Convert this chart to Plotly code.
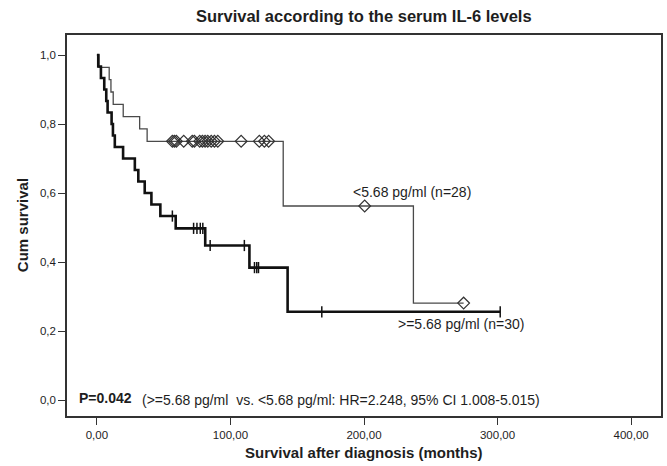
import plotly.graph_objects as go

# ---- data (months) ----
low_death = [1.5, 9.2, 10.5, 12.2, 19.7, 32.0, 37.6, 139.5, 237.0]
low_cens = [56.5, 58.0, 59.5, 65.0, 71.4, 73.0, 77.0, 79.0, 81.0, 83.0, 85.6,
            88.0, 90.5, 108.0, 121.6, 125.4, 128.6, 200.5, 274.6]
high_death = [1.0, 3.0, 5.5, 7.0, 8.0, 11.0, 12.0, 13.4, 19.6, 28.4, 31.0, 35.8,
              40.8, 47.5, 59.0, 81.1, 114.2, 142.8]
high_cens = [56.5, 72.4, 74.9, 77.4, 79.3, 84.8, 110.4, 118.0, 119.7, 121.0,
             168.4, 302.0]

x_ticks = [0, 100, 200, 300, 400]
x_ticklabels = ["0,00", "100,00", "200,00", "300,00", "400,00"]
y_ticks = [0.0, 0.2, 0.4, 0.6, 0.8, 1.0]
y_ticklabels = ["0,0", "0,2", "0,4", "0,6", "0,8", "1,0"]

title = "Survival according to the serum IL-6 levels"
x_title = "Survival after diagnosis (months)"
y_title = "Cum survival"
low_label = "<5.68 pg/ml (n=28)"
high_label = ">=5.68 pg/ml (n=30)"
p_text = "P=0.042"
hr_text = "(>=5.68 pg/ml  vs. <5.68 pg/ml: HR=2.248, 95% CI 1.008-5.015)"


def km(deaths, cens):
    events = sorted([(t, 0) for t in deaths] + [(t, 1) for t in cens])
    at_risk = len(events)
    s = 1.0
    xs, ys, cx, cy = [0.0], [1.0], [], []
    for t, c in events:
        if c == 0:
            s *= (at_risk - 1) / at_risk
            xs.append(t)
            ys.append(s)
        else:
            cx.append(t)
            cy.append(s)
        at_risk -= 1
    xs.append(events[-1][0])
    ys.append(s)
    return xs, ys, cx, cy


lx, ly, lcx, lcy = km(low_death, low_cens)
hx, hy, hcx, hcy = km(high_death, high_cens)

FONT = "Liberation Sans, Arial, sans-serif"
TXT = "#1e1e1e"

fig = go.Figure()
fig.add_trace(go.Scatter(x=lx, y=ly, mode="lines", line=dict(shape="hv", color="#4a4a4a", width=1.3),
                         hoverinfo="skip"))
fig.add_trace(go.Scatter(x=lcx, y=lcy, mode="markers",
                         marker=dict(symbol="diamond-open", size=9, color="#333333",
                                     line=dict(width=1.2, color="#333333")), hoverinfo="skip"))
fig.add_trace(go.Scatter(x=hx, y=hy, mode="lines", line=dict(shape="hv", color="#111111", width=2.6),
                         hoverinfo="skip"))
fig.add_trace(go.Scatter(x=hcx, y=hcy, mode="markers",
                         marker=dict(symbol="line-ns", size=8, color="#111111",
                                     line=dict(width=1.5, color="#111111")), hoverinfo="skip"))

ann = []
ann.append(dict(text=f"<b>{title}</b>", xref="paper", yref="paper", x=0.5, y=(416 - 16) / 381,
                xanchor="center", yanchor="middle", showarrow=False,
                font=dict(size=16.5, color=TXT, family=FONT)))
ann.append(dict(text=f"<b>{x_title}</b>", xref="paper", yref="paper", x=0.5, y=(416 - 453) / 381,
                xanchor="center", yanchor="middle", showarrow=False,
                font=dict(size=15, color=TXT, family=FONT)))
ann.append(dict(text=f"<b>{y_title}</b>", xref="paper", yref="paper", x=(22 - 67) / 596,
                y=(416 - 225) / 381, xanchor="center", yanchor="middle", textangle=-90,
                showarrow=False, font=dict(size=15, color=TXT, family=FONT)))
ann.append(dict(text=low_label, xref="x", yref="y", x=190.3, y=0.603, xanchor="left",
                yanchor="middle", showarrow=False, font=dict(size=14, color=TXT, family=FONT)))
ann.append(dict(text=high_label, xref="x", yref="y", x=224.0, y=0.22, xanchor="left",
                yanchor="middle", showarrow=False, font=dict(size=14, color=TXT, family=FONT)))
ann.append(dict(text=f"<b>{p_text}</b>", xref="x", yref="y", x=-15.0, y=0.006, xanchor="left",
                yanchor="middle", showarrow=False, font=dict(size=14, color=TXT, family=FONT)))
ann.append(dict(text=hr_text, xref="x", yref="y", x=32.0, y=0.0, xanchor="left",
                yanchor="middle", showarrow=False, font=dict(size=14, color=TXT, family=FONT)))

fig.update_layout(
    width=667, height=466,
    margin=dict(l=67, r=4, t=35, b=50),
    paper_bgcolor="white", plot_bgcolor="white",
    showlegend=False,
    annotations=ann,
    xaxis=dict(range=[-22.4, 422.4], tickvals=x_ticks, ticktext=x_ticklabels,
               showline=True, mirror=True, linecolor="#333333", linewidth=1.6,
               ticks="outside", ticklen=7, tickcolor="#333333", tickwidth=1.2,
               showgrid=False, zeroline=False,
               tickfont=dict(size=11.5, color=TXT, family=FONT)),
    yaxis=dict(range=[-0.046, 1.058], tickvals=y_ticks, ticktext=y_ticklabels,
               showline=True, mirror=True, linecolor="#333333", linewidth=1.6,
               ticks="outside", ticklen=7, tickcolor="#333333", tickwidth=1.2,
               showgrid=False, zeroline=False,
               tickfont=dict(size=11.5, color=TXT, family=FONT)),
)

fig.write_html("out.html")
